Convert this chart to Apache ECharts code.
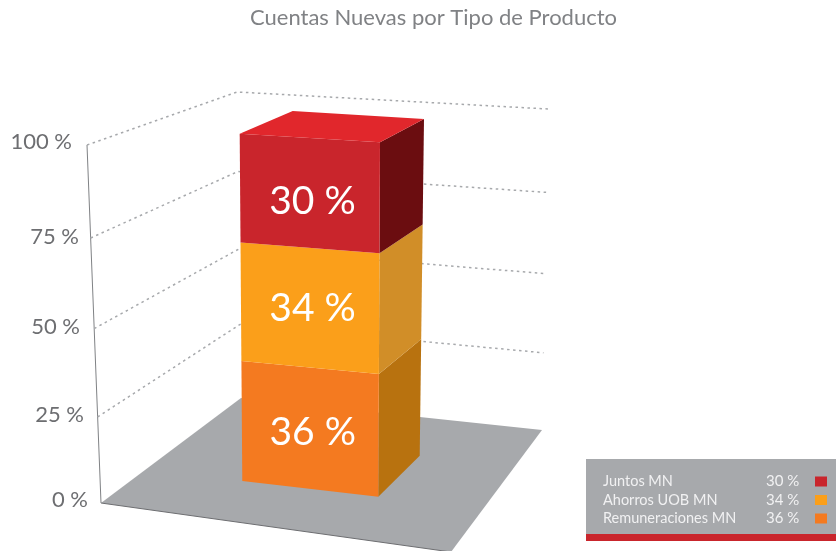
<!DOCTYPE html>
<html>
<head>
<meta charset="utf-8">
<style>html,body{margin:0;padding:0;background:#fff}#chart{width:836px;height:551px}</style>
<script src="https://cdn.jsdelivr.net/npm/echarts@6/dist/echarts.min.js"></script>
</head>
<body>
<div id="chart"></div>
<script>
// Share of new accounts per product, listed in legend order
const productNames = ['Juntos MN', 'Ahorros UOB MN', 'Remuneraciones MN'];
const productShares = [30, 34, 36];
const tickValues = [0, 25, 50, 75, 100];
const tickLabels = ['0 %', '25 %', '50 %', '75 %', '100 %'];
const chartTitle = 'Cuentas Nuevas por Tipo de Producto';

// Face colours per product: front, side
const frontColors = ['#c9252c', '#fb9f1a', '#f47a20'];
const sideColors = ['#6b0d10', '#d18e28', '#b8720f'];
const capColor = '#e1272c';
const floorColor = '#a7a9ac';
const FONT = 'Lato, "Open Sans", sans-serif';

// Perspective scene: each vertical edge runs from its floor point to its 100 % point
const WALL = {
  near: [[101, 503], [87, 145]],
  corner: [[241, 398], [237, 92]],
  far: [[542, 430], [548, 109]]
};
const FLOOR_FRONT = [451, 552];
const BAR = {
  frontLeft: [[242.3, 481], [239.7, 133.7]],
  frontRight: [[378.3, 496.7], [380, 142.3]],
  backRight: [[419.7, 455.7], [424, 119]],
  backLeft: [[283, 442], [292.7, 111]]
};
const WALL_FORESHORTEN = 0.95;
const BAR_FORESHORTEN = 0.94;
const LABEL_SHIFT_X = 2.5;
const LABEL_SHIFT_Y = [8, 1, 4];
const TICK_LABEL_POS = [[88, 500], [84, 415], [80, 327], [79, 237], [72, 142]];

const GRID = { left: 101, top: 145, width: 441, height: 358 };

// Turns a value into its position along a vertical edge, using the y axis scale
function fractionOf(api, value) {
  const y = api.coord([0, value])[1];
  return (GRID.top + GRID.height - y) / GRID.height;
}
function onEdge(edge, t, k) {
  const f = t * k / (1 - t + t * k);
  return [edge[0][0] + (edge[1][0] - edge[0][0]) * f, edge[0][1] + (edge[1][1] - edge[0][1]) * f];
}

function renderFloor() {
  return {
    type: 'group',
    children: [
      { type: 'polygon', silent: true, shape: { points: [WALL.near[0], WALL.corner[0], WALL.far[0], FLOOR_FRONT] }, style: { fill: floorColor } },
      { type: 'line', silent: true, shape: { x1: WALL.near[0][0], y1: WALL.near[0][1], x2: FLOOR_FRONT[0], y2: FLOOR_FRONT[1] }, style: { stroke: '#6d6e71', lineWidth: 1 } },
      { type: 'line', silent: true, shape: { x1: WALL.near[0][0], y1: WALL.near[0][1], x2: WALL.near[1][0], y2: WALL.near[1][1] }, style: { stroke: '#808285', lineWidth: 1 } }
    ]
  };
}

// Dotted gridline along both walls plus the tick label at the near axis
function renderTick(params, api) {
  const value = api.value(1);
  const t = fractionOf(api, value);
  const children = [];
  if (value > 0) {
    const a = onEdge(WALL.near, t, WALL_FORESHORTEN);
    const b = onEdge(WALL.corner, t, WALL_FORESHORTEN);
    const c = onEdge(WALL.far, t, WALL_FORESHORTEN);
    children.push({
      type: 'polyline', silent: true, shape: { points: [a, b, c] },
      style: { fill: null, stroke: '#a7a9ac', lineWidth: 1.5, lineDash: [2.5, 3.5] }
    });
  }
  const pos = TICK_LABEL_POS[params.dataIndex];
  children.push({
    type: 'text', silent: true,
    style: { text: tickLabels[params.dataIndex], x: pos[0], y: pos[1], align: 'right', verticalAlign: 'middle', fontFamily: FONT, fontSize: 22, fill: '#6d6e71' }
  });
  return { type: 'group', children: children };
}

// One stacked block: side face, front face, cap on the top block, value label
function blockRenderer(index) {
  return function (params, api) {
    const t0 = fractionOf(api, api.value(1));
    const t1 = fractionOf(api, api.value(2));
    const k = BAR_FORESHORTEN;
    const p = (edge, t) => onEdge(edge, t, k);
    const fl0 = p(BAR.frontLeft, t0), fl1 = p(BAR.frontLeft, t1);
    const fr0 = p(BAR.frontRight, t0), fr1 = p(BAR.frontRight, t1);
    const br0 = p(BAR.backRight, t0), br1 = p(BAR.backRight, t1);
    const children = [
      { type: 'polygon', silent: true, shape: { points: [fr0, br0, br1, fr1] }, style: { fill: sideColors[index] } },
      { type: 'polygon', silent: true, shape: { points: [fl0, fr0, fr1, fl1] }, style: { fill: frontColors[index] } }
    ];
    if (api.value(2) >= 100) {
      const bl1 = p(BAR.backLeft, t1);
      children.push({ type: 'polygon', silent: true, shape: { points: [fl1, fr1, br1, bl1] }, style: { fill: capColor } });
    }
    const cx = (fl0[0] + fr0[0] + fl1[0] + fr1[0]) / 4 + LABEL_SHIFT_X;
    const cy = (fl0[1] + fr0[1] + fl1[1] + fr1[1]) / 4 + LABEL_SHIFT_Y[index];
    children.push({
      type: 'text', silent: true,
      style: { text: productShares[index] + ' %', x: cx, y: cy, align: 'center', verticalAlign: 'middle', fontFamily: FONT, fontSize: 39, fill: '#ffffff' }
    });
    return { type: 'group', children: children };
  };
}

// Stack from the bottom up: last listed product sits on the floor
const blocks = [];
let running = 0;
for (let i = productNames.length - 1; i >= 0; i--) {
  blocks.push({
    name: productNames[i],
    type: 'custom',
    clip: false,
    silent: true,
    z: 3,
    itemStyle: { color: frontColors[i] },
    encode: { x: 0, y: [1, 2] },
    data: [[0, running, running + productShares[i]]],
    renderItem: blockRenderer(i)
  });
  running += productShares[i];
}

const chart = echarts.init(document.getElementById('chart'), null, { renderer: 'canvas' });
chart.setOption({
  animation: false,
  backgroundColor: '#ffffff',
  title: {
    text: chartTitle, left: 428.5, top: 2, textAlign: 'center',
    textStyle: { color: '#808285', fontFamily: FONT, fontSize: 22, fontWeight: 'normal' }
  },
  grid: GRID,
  xAxis: { type: 'value', min: 0, max: 1, show: false },
  yAxis: { type: 'value', min: 0, max: 100, interval: 25, show: false },
  legend: {
    data: productNames,
    orient: 'vertical', left: 603, top: 474, padding: 0, itemGap: 3.5,
    align: 'right', itemWidth: 12, itemHeight: 10, selectedMode: false,
    icon: 'rect',
    formatter: function (name) {
      return '{n|' + name + '}{v|' + productShares[productNames.indexOf(name)] + ' %}';
    },
    textStyle: {
      rich: {
        n: { width: 163, align: 'left', color: '#f1f1f2', fontFamily: FONT, fontSize: 14.5 },
        v: { width: 44, align: 'left', color: '#f1f1f2', fontFamily: FONT, fontSize: 15 }
      }
    }
  },
  graphic: [
    { type: 'rect', silent: true, z: -1, shape: { x: 586, y: 459, width: 250, height: 75 }, style: { fill: floorColor } },
    { type: 'rect', silent: true, z: -1, shape: { x: 586, y: 534, width: 250, height: 7 }, style: { fill: '#c9252c' } }
  ],
  series: [
    { name: 'Piso', type: 'custom', clip: false, silent: true, z: 1, encode: { x: 0, y: 1 }, data: [[0, 0]], renderItem: renderFloor },
    { name: 'Escala', type: 'custom', clip: false, silent: true, z: 2, encode: { x: 0, y: 1 }, data: tickValues.map(v => [0, v]), renderItem: renderTick }
  ].concat(blocks)
});
</script>
</body>
</html>
